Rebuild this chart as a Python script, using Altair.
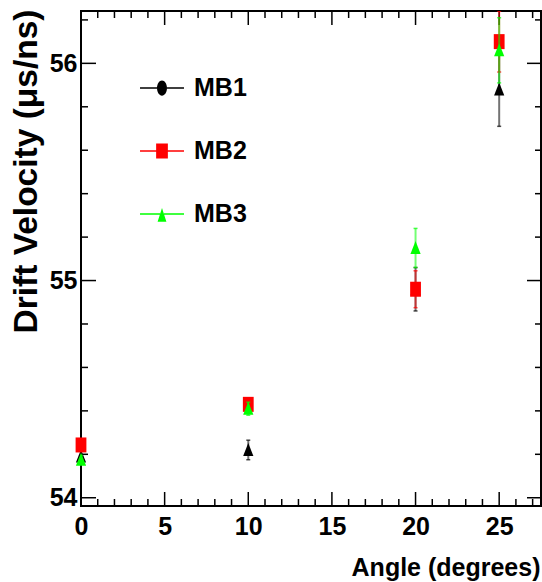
import altair as alt
import pandas as pd

# ---------------- data ----------------
series = ["MB1", "MB2", "MB3"]
angles = [0, 10, 20, 25]
mb1_vals = [54.19, 54.22, 54.96, 55.88]
mb1_errs = [0.03, 0.045, 0.10, 0.17]
mb2_vals = [54.243, 54.43, 54.96, 56.10]
mb2_errs = [0.02, 0.02, 0.085, 0.14]
mb3_vals = [54.175, 54.41, 55.15, 56.06]
mb3_errs = [0.02, 0.03, 0.09, 0.15]

x_major = [0, 5, 10, 15, 20, 25]
x_minor = [v for v in range(1, 28) if v % 5]
y_major = [54, 55, 56]
y_minor = [54.2, 54.4, 54.6, 54.8, 55.2, 55.4, 55.6, 55.8, 56.2]

rows = []
for s, vals, errs in zip(series, [mb1_vals, mb2_vals, mb3_vals], [mb1_errs, mb2_errs, mb3_errs]):
    for a, v, e in zip(angles, vals, errs):
        rows.append({"series": s, "angle": a, "v": v, "lo": v - e, "hi": v + e})
df = pd.DataFrame(rows)

# ---------------- styles ----------------
W, H = 460, 495
FONT = "Liberation Sans, Arial, Helvetica, sans-serif"
colors = ["#000000", "#ff0000", "#00ff00"]

xs = alt.Scale(domain=[0, 27.5], nice=False, zero=False)
ys = alt.Scale(domain=[53.962, 56.241], nice=False, zero=False)
cs = alt.Scale(domain=series, range=colors)

xaxis = alt.Axis(values=x_major, ticks=False, domain=False, grid=False,
                 labelFont=FONT, labelFontSize=25, labelFontWeight="bold",
                 labelColor="black", labelPadding=8, labelFlush=False, format="d",
                 title="Angle (degrees)", titleFont=FONT, titleFontSize=25,
                 titleFontWeight="bold", titleColor="black", titleX=459, titleY=69,
                 titleAlign="right", titleBaseline="alphabetic", titleAngle=0)
yaxis = alt.Axis(values=y_major, ticks=False, domain=False, grid=False,
                 labelFont=FONT, labelFontSize=25, labelFontWeight="bold",
                 labelColor="black", labelPadding=4, labelFlush=False, format="d",
                 title="Drift Velocity (\u03bcs/ns)", titleFont=FONT, titleFontSize=33.5,
                 titleFontWeight="bold", titleColor="black", titleAngle=270,
                 titleAlign="right", titleBaseline="alphabetic", titleX=-45, titleY=-2)

TRI = "M0,-1.15L0.85,1.0L-0.85,1.0Z"
SQ = "M-0.9,-1.25H0.9V1.25H-0.9Z"
marker_path = {"MB1": TRI, "MB2": SQ, "MB3": TRI}

LEG_PATHS = [
    "M-1.5,-0.045H-0.34V0.045H-1.5Z M0.34,-0.045H1.5V0.045H0.34Z "
    "M0.34,0A0.34,0.52 0 1,1 -0.34,0A0.34,0.52 0 1,1 0.34,0Z",
    "M-1.5,-0.045H-0.4V0.045H-1.5Z M0.4,-0.045H1.5V0.045H0.4Z "
    "M-0.4,-0.51H0.4V0.51H-0.4Z",
    "M-1.5,-0.045H-0.13V0.045H-1.5Z M0.13,-0.045H1.5V0.045H0.13Z "
    "M0,-0.41L0.3,0.52L-0.3,0.52Z",
]

leg = alt.Legend(orient="none", legendX=66, legendY=62, title=None,
                 labelFont=FONT, labelFontSize=25, labelFontWeight="bold",
                 labelColor="black", rowPadding=35, labelOffset=17, padding=0,
                 symbolOpacity=1, symbolSize=860, symbolStrokeWidth=0)

X = lambda f: alt.X(f, scale=xs, axis=xaxis)
Y = lambda f: alt.Y(f, scale=ys, axis=yaxis)
COL = alt.Color("series:N", scale=cs, legend=leg)

layers = []

# ticks (inside the frame, on all four sides)
def xticks(vals, length):
    d = pd.DataFrame({"t": vals})
    b = alt.Chart(d).mark_rule(color="black", strokeWidth=1.5)
    return [
        b.encode(x=X("t:Q"), y=alt.value(H), y2=alt.value(H - length)),
        b.encode(x=X("t:Q"), y=alt.value(0), y2=alt.value(length)),
    ]

def yticks(vals, length):
    d = pd.DataFrame({"t": vals})
    b = alt.Chart(d).mark_rule(color="black", strokeWidth=1.5)
    return [
        b.encode(y=Y("t:Q"), x=alt.value(0), x2=alt.value(length)),
        b.encode(y=Y("t:Q"), x=alt.value(W), x2=alt.value(W - length + 1)),
    ]

layers += xticks(x_major, 14) + xticks(x_minor, 7) + yticks(y_major, 15) + yticks(y_minor, 7)

# legend layer (invisible marks; provides the legend symbols)
layers.append(
    alt.Chart(df).mark_point(filled=True, opacity=0, size=860).encode(
        x=X("angle:Q"), y=Y("v:Q"),
        color=COL,
        shape=alt.Shape("series:N", scale=alt.Scale(domain=series, range=LEG_PATHS), legend=leg),
    )
)

# data series
for s in series:
    b = alt.Chart(df).transform_filter(alt.datum.series == s)
    layers.append(b.mark_rule(strokeWidth=2, opacity=0.55, clip=True).encode(
        x=X("angle:Q"), y=Y("lo:Q"), y2="hi:Q", color=COL))
    for f in ["lo:Q", "hi:Q"]:
        layers.append(b.mark_tick(orient="horizontal", size=4, thickness=1.5, clip=True).encode(
            x=X("angle:Q"), y=Y(f), color=COL))
    layers.append(b.mark_point(filled=True, opacity=1, size=144, shape=marker_path[s]).encode(
        x=X("angle:Q"), y=Y("v:Q"), color=COL))

chart = alt.layer(*layers).properties(
    width=W, height=H,
    padding={"left": 81, "top": 11, "right": 1, "bottom": 76},
    autosize=alt.AutoSizeParams(type="none"),
    background="white",
).configure_view(stroke="black", strokeWidth=2)

chart.save("out.html", embed_options={"renderer": "svg", "actions": False})
